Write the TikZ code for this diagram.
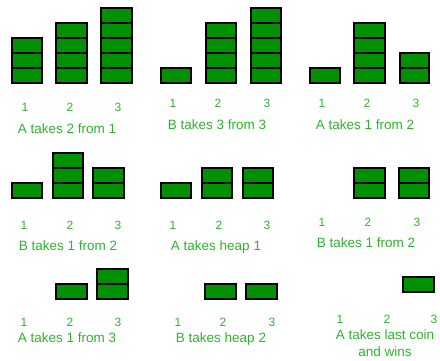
\documentclass[tikz,border=0pt]{standalone}
\usepackage{fontspec}
\setmainfont{Liberation Sans}
\definecolor{coinfill}{RGB}{0,145,0}
\definecolor{labelgreen}{RGB}{45,180,45}
\newcommand\heapdraw[4]{%
  \foreach \k in {1,...,#4}{\draw[coin] (#1,{#3-15*\k}) rectangle (#2,{#3-15*(\k-1)});}}
\begin{document}
\begin{tikzpicture}[x=1pt,y=-1pt,
  coin/.style={fill=coinfill,draw=black,line width=1.3pt},
  num/.style={text=labelgreen,font=\fontsize{12}{14}\selectfont,inner sep=0pt,text height=8.6pt,text depth=0pt},
  captxt/.style={text=labelgreen,font=\fontsize{13.5}{16}\selectfont,inner sep=0pt,text height=9.7pt,text depth=0pt}]
\useasboundingbox (0,0) rectangle (440,360);
% Row 1
\heapdraw{12}{42}{83}{3}\heapdraw{56}{87}{83}{4}\heapdraw{101}{132}{83}{5}
\heapdraw{161}{191}{83}{1}\heapdraw{206}{236}{83}{4}\heapdraw{251}{281}{83}{5}
\heapdraw{310}{340}{83}{1}\heapdraw{354}{385}{83}{4}\heapdraw{400}{429}{83}{2}
% Row 2
\heapdraw{12}{42}{198}{1}\heapdraw{53}{83}{198}{3}\heapdraw{93}{124}{198}{2}
\heapdraw{161}{191}{198}{1}\heapdraw{202}{232}{198}{2}\heapdraw{243}{273}{198}{2}
\heapdraw{354}{385}{198}{2}\heapdraw{399}{429}{198}{2}
% Row 3
\heapdraw{56}{87}{299}{1}\heapdraw{97}{128}{299}{2}
\heapdraw{205}{236}{299}{1}\heapdraw{246}{277}{299}{1}
\heapdraw{403}{434}{292}{1}
% Labels
\node[num] (a1) at (25,107) {1};\node[num] (a2) at (70,107) {2};\node[num] (a3) at (118,107) {3};
\node[captxt] (ca) at (67,129) {A takes 2 from 1};
\node[num] (b1) at (173,103) {1};\node[num] (b2) at (218,103) {2};\node[num] (b3) at (267,103) {3};
\node[captxt] (cb) at (217,125) {B takes 3 from 3};
\node[num] (c1) at (322,103) {1};\node[num] (c2) at (367,103) {2};\node[num] (c3) at (416,103) {3};
\node[captxt] (cc) at (365,125) {A takes 1 from 2};
\node[num] (d1) at (24,225) {1};\node[num] (d2) at (70,225) {2};\node[num] (d3) at (118,225) {3};
\node[captxt] (cd) at (68,246) {B takes 1 from 2};
\node[num] (e1) at (173,225) {1};\node[num] (e2) at (219,225) {2};\node[num] (e3) at (267,225) {3};
\node[captxt] (ce) at (216,246) {A takes heap 1};
\node[num] (f1) at (322,222) {1};\node[num] (f2) at (368,222) {2};\node[num] (f3) at (417,222) {3};
\node[captxt] (cf) at (366,243) {B takes 1 from 2};
\node[num] (g1) at (24,322) {1};\node[num] (g2) at (70,322) {2};\node[num] (g3) at (118,322) {3};
\node[captxt] (cg) at (67,338) {A takes 1 from 3};
\node[num] (h1) at (178,322) {1};\node[num] (h2) at (223,322) {2};\node[num] (h3) at (272,322) {3};
\node[captxt] (ch) at (221,338) {B takes heap 2};
\node[num] (i1) at (340,319) {1};\node[num] (i2) at (387,319) {2};\node[num] (i3) at (434,319) {3};
\node[captxt] (ci) at (385,335) {A takes last coin};
\node[captxt] (cj) at (385,352) {and wins};
\end{tikzpicture}
\end{document}
